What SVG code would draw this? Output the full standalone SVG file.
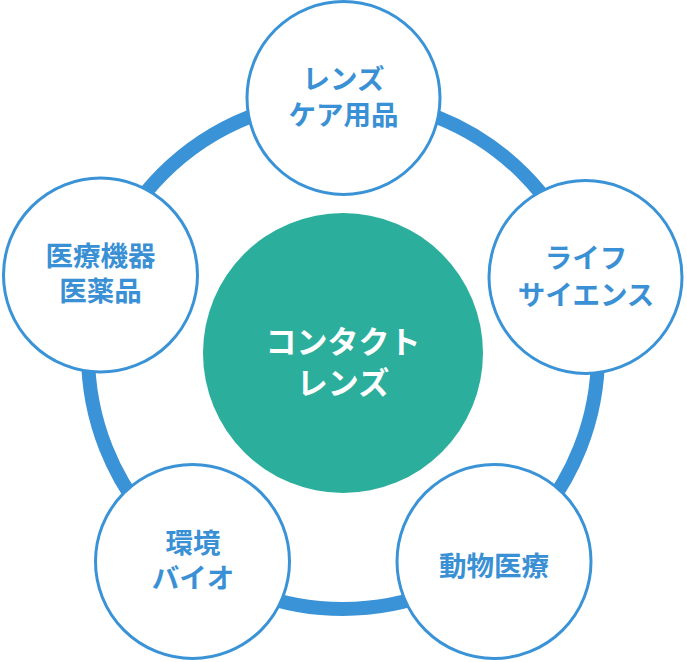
<svg xmlns="http://www.w3.org/2000/svg" width="687" height="662" viewBox="0 0 687 662">
<style>
.node{fill:#fff;stroke:#3a93d6;stroke-width:3}
.lbl{font-family:"Noto Sans CJK JP","Noto Sans",sans-serif;font-weight:bold;font-size:27.5px;fill:#3a90d4;text-anchor:middle}
.clbl{font-family:"Noto Sans CJK JP","Noto Sans",sans-serif;font-weight:bold;font-size:31px;fill:#fff;text-anchor:middle}
</style>
<rect width="687" height="662" fill="#fff"/>
<g id="connectors">
<circle cx="343" cy="354" r="255" fill="none" stroke="#3a93d6" stroke-width="14"/>
</g>
<g id="center">
<circle cx="343" cy="353" r="140" fill="#2baf9c"/>
<text class="clbl" x="343" y="353">コンタクト</text>
<text class="clbl" x="343" y="394">レンズ</text>
</g>
<g id="lens-care">
<circle class="node" cx="343.5" cy="98" r="96.5"/>
<text class="lbl" x="343.5" y="89">レンズ</text>
<text class="lbl" x="343.5" y="125">ケア用品</text>
</g>
<g id="life-science">
<circle class="node" cx="585.5" cy="277" r="96.5"/>
<text class="lbl" x="586" y="268">ライフ</text>
<text class="lbl" x="586" y="305">サイエンス</text>
</g>
<g id="animal">
<circle class="node" cx="494" cy="561.5" r="97"/>
<text class="lbl" x="494" y="576">動物医療</text>
</g>
<g id="environment">
<circle class="node" cx="192.5" cy="561.5" r="97"/>
<text class="lbl" x="193" y="553">環境</text>
<text class="lbl" x="193" y="588">バイオ</text>
</g>
<g id="medical">
<circle class="node" cx="100.5" cy="275" r="97"/>
<text class="lbl" x="100.5" y="266">医療機器</text>
<text class="lbl" x="100.5" y="301">医薬品</text>
</g>
</svg>
